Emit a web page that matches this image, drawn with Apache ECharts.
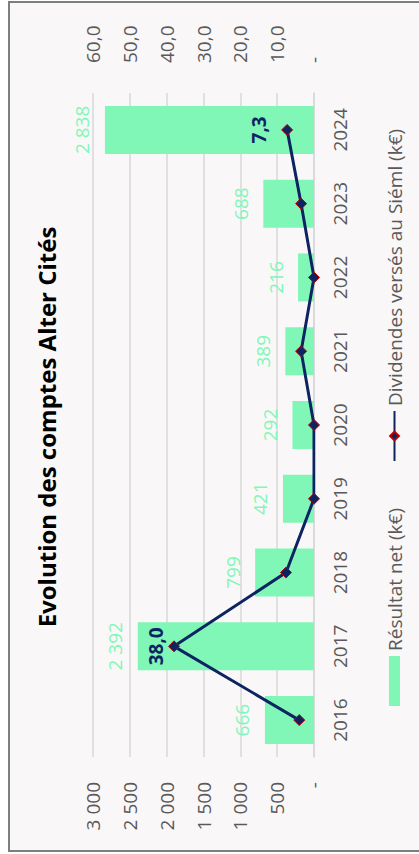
<!DOCTYPE html>
<html>
<head>
<meta charset="utf-8">
<script src="https://cdn.jsdelivr.net/npm/echarts@6/dist/echarts.min.js"></script>
<style>
html,body{margin:0;padding:0;background:#ffffff;overflow:hidden;width:419px;height:854px;}
#wrap{position:absolute;left:0;top:0;width:854px;height:419px;transform-origin:0 0;transform:translate(0px,854px) rotate(-90deg);}
#frame{position:absolute;left:2px;top:8px;width:851px;height:440px;box-sizing:border-box;border:2.5px solid #7d7f7f;background:#f9f7f7;}
#chart{position:absolute;left:0;top:0;width:854px;height:419px;}
</style>
</head>
<body>
<div id="wrap"><div id="frame"></div><div id="chart"></div></div>
<script>
const titleText = 'Evolution des comptes Alter Cités';
const years = ['2016', '2017', '2018', '2019', '2020', '2021', '2022', '2023', '2024'];
const resultatNet = [666, 2392, 799, 421, 292, 389, 216, 688, 2838];
const dividendes = [4.0, 38.0, 7.6, 0, 0, 3.5, 0, 3.5, 7.3];
const dividendesLabelled = [false, true, false, false, false, false, false, false, true];
const leftTickLabels = ['-', '500', '1 000', '1 500', '2 000', '2 500', '3 000'];
const rightTickLabels = ['-', '10,0', '20,0', '30,0', '40,0', '50,0', '60,0'];
const seriesNames = ['Résultat net (k€)', 'Dividendes versés au Siéml (k€)'];

const FONT = '"Open Sans", "Noto Sans", sans-serif';
const GREEN = '#80f7b6';
const NAVY = '#0c2461';
const GREY = '#595959';

function thousands(v){ return String(Math.round(v)).replace(/\B(?=(\d{3})+(?!\d))/g, ' '); }

const chart = echarts.init(document.getElementById('chart'), null, {renderer:'svg'});
chart.setOption({
  animation:false,
  textStyle:{fontFamily:FONT},
  title:{text:titleText, left:'center', top:29, textStyle:{fontFamily:FONT, fontSize:24, fontWeight:'bold', color:'#000'}},
  legend:{
    left:143, top:380, itemWidth:50, itemHeight:11, itemGap:46,
    textStyle:{fontFamily:FONT, fontSize:19, color:GREY},
    data:[{name:seriesNames[0], icon:'rect'}, {name:seriesNames[1]}]
  },
  grid:{left:97, right:93, top:93, bottom:105, containLabel:false},
  xAxis:{
    type:'category', data:years,
    axisLine:{show:true, lineStyle:{color:'#d9d9d9', width:1.5}},
    axisTick:{show:false},
    axisLabel:{fontFamily:FONT, fontSize:19, color:GREY, margin:16}
  },
  yAxis:[
    {type:'value', min:0, max:3000, interval:500,
     axisLine:{show:false}, axisTick:{show:false},
     splitLine:{lineStyle:{color:'#d9d9d9', width:1.5}},
     axisLabel:{fontFamily:FONT, fontSize:19, color:GREY, margin:25,
       formatter:function(v){return leftTickLabels[Math.round(v/500)];}}},
    {type:'value', min:0, max:60, interval:10,
     axisLine:{show:false}, axisTick:{show:false}, splitLine:{show:false},
     axisLabel:{fontFamily:FONT, fontSize:19, color:GREY, margin:30,
       formatter:function(v){return rightTickLabels[Math.round(v/10)];}}}
  ],
  series:[
    {name:seriesNames[0], type:'bar', yAxisIndex:0, data:resultatNet, barWidth:48,
     itemStyle:{color:GREEN},
     label:{show:true, position:'top', distance:13, color:GREEN, fontFamily:FONT, fontSize:19,
       formatter:function(p){return thousands(p.value);}}},
    {name:seriesNames[1], type:'line', yAxisIndex:1,
     data:dividendes.map(function(v,i){
       return {value:v, label:{show:dividendesLabelled[i], distance: i===years.length-1 ? 13 : 3}};
     }),
     symbol:'diamond', symbolSize:11,
     lineStyle:{color:NAVY, width:3},
     itemStyle:{color:NAVY, borderColor:'#c00000', borderWidth:1},
     label:{position:'top', color:NAVY, fontFamily:FONT, fontSize:19, fontWeight:'bold',
       formatter:function(p){return p.value.toFixed(1).replace('.', ',');}}}
  ]
});
</script>
</body>
</html>
